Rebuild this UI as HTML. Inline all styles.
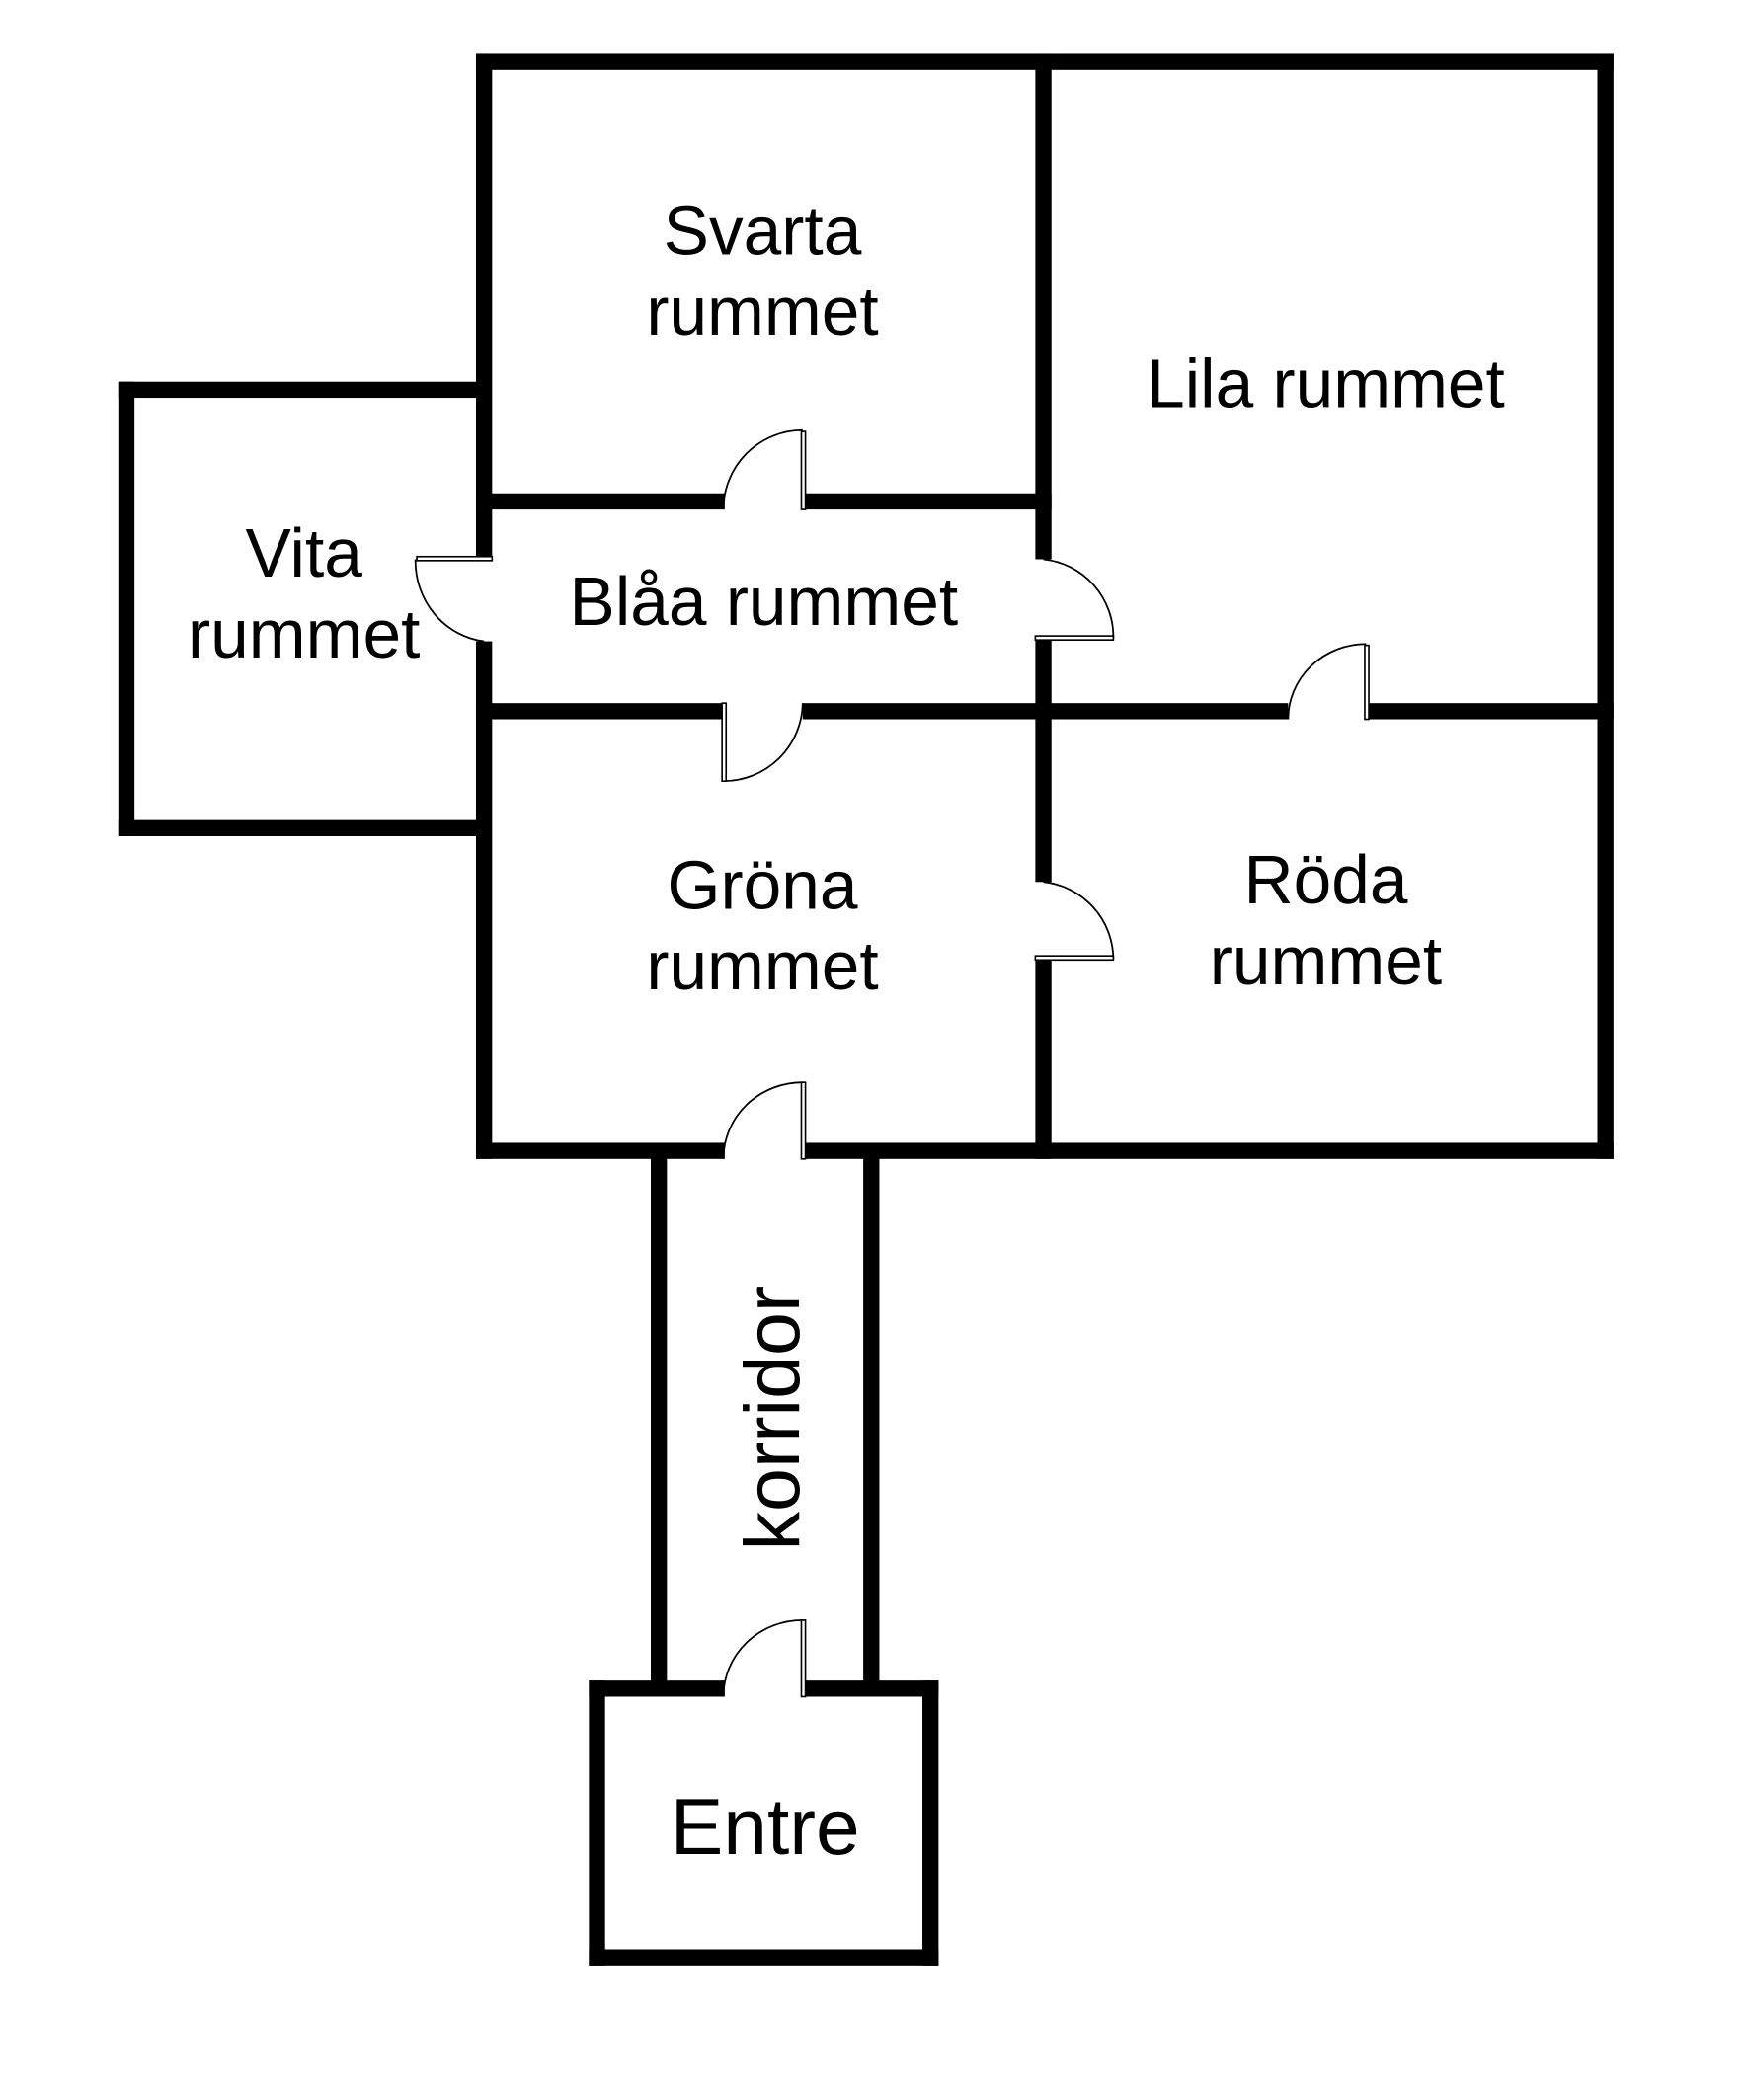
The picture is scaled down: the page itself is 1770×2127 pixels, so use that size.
<!DOCTYPE html>
<html><head><meta charset="utf-8"><style>
html,body{margin:0;padding:0;background:#fff;}
svg{display:block;}
text{font-family:"Liberation Sans",sans-serif;fill:#000;}
</style></head><body>
<svg width="1770" height="2127" viewBox="0 0 1300 1562" preserveAspectRatio="none" xmlns="http://www.w3.org/2000/svg">
<rect width="1300" height="1562" fill="#fff"/>
<g fill="#000">
<rect x="354" y="40" width="846" height="12"/>
<rect x="354" y="850" width="846" height="12"/>
<rect x="354" y="40" width="12" height="822"/>
<rect x="1188" y="40" width="12" height="822"/>
<rect x="770" y="40" width="12" height="822"/>
<rect x="354" y="367" width="428" height="12"/>
<rect x="354" y="523" width="846" height="12"/>
<rect x="88" y="284" width="272" height="12"/>
<rect x="88" y="610" width="272" height="12"/>
<rect x="88" y="284" width="12" height="338"/>
<rect x="484" y="856" width="12" height="400"/>
<rect x="642" y="856" width="12" height="400"/>
<rect x="438" y="1250" width="260" height="12"/>
<rect x="438" y="1450" width="260" height="12"/>
<rect x="438" y="1250" width="12" height="212"/>
<rect x="686" y="1250" width="12" height="212"/>
</g>
<g fill="#fff">
<rect x="539" y="366" width="58" height="14"/>
<rect x="539" y="522" width="58" height="14"/>
<rect x="353" y="416" width="14" height="61"/>
<rect x="769" y="416" width="14" height="58"/>
<rect x="958" y="522" width="58" height="14"/>
<rect x="769" y="656" width="14" height="56"/>
<rect x="539" y="849" width="58" height="14"/>
<rect x="539" y="1249" width="58" height="14"/>
</g>
<g fill="none" stroke="#000" stroke-width="1.3">
<path d="M597 320 A59 59 0 0 0 538 379"/>
<path d="M538 581 A59 59 0 0 0 597 523"/>
<path d="M309 416 A58 60 0 0 0 360 477"/>
<path d="M828 475 A58 58 0 0 0 776 416"/>
<path d="M1016 479 A58 56 0 0 0 958 535"/>
<path d="M828 713 A58 58 0 0 0 776 656"/>
<path d="M597 805 A59 57 0 0 0 538 862"/>
<path d="M597 1205 A59 57 0 0 0 538 1262"/>
</g>
<g fill="#fff" stroke="#000" stroke-width="1.2">
<rect x="596" y="321" width="3" height="58"/>
<rect x="537" y="523" width="3" height="58"/>
<rect x="310" y="414" width="56" height="3"/>
<rect x="770" y="473" width="58" height="3"/>
<rect x="1015" y="480" width="3" height="55"/>
<rect x="770" y="711" width="58" height="3"/>
<rect x="596" y="805" width="3" height="57"/>
<rect x="596" y="1205" width="3" height="57"/>
</g>
<g font-size="51" text-anchor="middle">
<text x="567" y="189">Svarta</text>
<text x="567" y="249">rummet</text>
<text x="986" y="303">Lila rummet</text>
<text x="226" y="429">Vita</text>
<text x="226" y="489">rummet</text>
<text x="568" y="465">Blåa rummet</text>
<text x="567" y="676">Gröna</text>
<text x="567" y="736">rummet</text>
<text x="986" y="672">Röda</text>
<text x="986" y="732">rummet</text>
<text x="569" y="1379" font-size="59">Entre</text>
<text transform="translate(594,1055) rotate(-90)" font-size="58">korridor</text>
</g>
</svg>
</body></html>
